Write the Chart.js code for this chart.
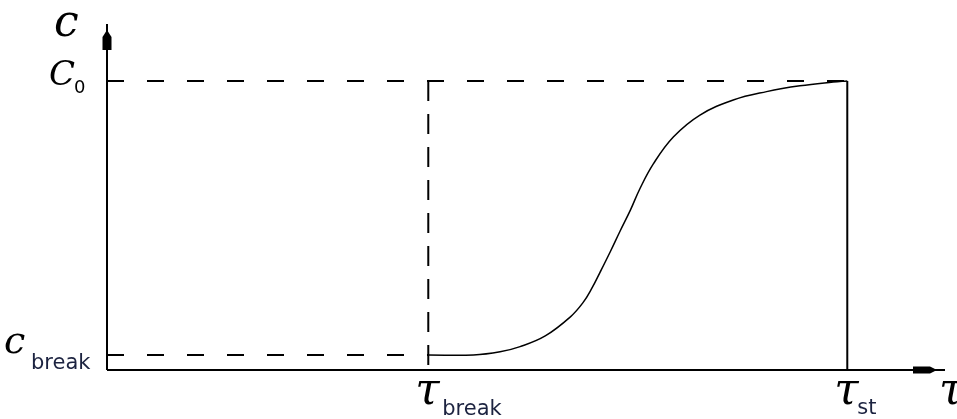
<!DOCTYPE html>
<html lang="en">
<head>
<meta charset="utf-8">
<title>Breakthrough curve</title>
<script src="https://cdn.jsdelivr.net/npm/chart.js@4"></script>
<style>
  body { margin: 0; background: #fff; }
  #wrap { width: 957px; height: 419px; position: relative; }
</style>
</head>
<body>
<div id="wrap"><canvas id="chart"></canvas></div>
<script>
// time in units of tau_st, concentration in units of C0
const tauBreak = 0.434;
const tauSt = 1.0;
const cBreak = 0.052;
const c0 = 1.0;
const xMax = 1.132;
const yMax = 1.197;

const curveTau = [0.434, 0.495, 0.531, 0.558, 0.592, 0.626, 0.643, 0.655, 0.666,
                  0.680, 0.693, 0.707, 0.720, 0.738, 0.765, 0.801, 0.846,
                  0.891, 0.936, 0.981, 1.0];
const curveC = [0.052, 0.052, 0.063, 0.081, 0.118, 0.184, 0.233, 0.283, 0.338,
                0.410, 0.480, 0.553, 0.628, 0.713, 0.806, 0.882, 0.934,
                0.963, 0.983, 0.996, 1.0];

const ink = '#000';
const subInk = '#1c2340';
const pts = (xs, ys) => xs.map((x, i) => ({ x: x, y: ys[i] }));

const line = (data, extra) => Object.assign({
  data: data, borderColor: ink, borderWidth: 2, pointRadius: 0,
  fill: false, tension: 0, clip: false
}, extra || {});

// arrowheads and axis labels
const decor = {
  id: 'decor',
  afterDatasetsDraw(chart) {
    const ctx = chart.ctx;
    const xs = chart.scales.x, ys = chart.scales.y;
    const ox = xs.getPixelForValue(0), oy = ys.getPixelForValue(0);
    const top = ys.getPixelForValue(yMax), right = xs.getPixelForValue(xMax);
    ctx.save();
    ctx.fillStyle = ink;
    // y arrow
    ctx.beginPath();
    ctx.moveTo(ox, top + 6);
    ctx.lineTo(ox + 4.5, top + 13);
    ctx.lineTo(ox + 4.5, top + 26);
    ctx.lineTo(ox - 4.5, top + 26);
    ctx.lineTo(ox - 4.5, top + 13);
    ctx.closePath();
    ctx.fill();
    // x arrow
    ctx.beginPath();
    ctx.moveTo(right - 8, oy);
    ctx.lineTo(right - 15, oy - 3.5);
    ctx.lineTo(right - 32, oy - 3.5);
    ctx.lineTo(right - 32, oy + 3.5);
    ctx.lineTo(right - 15, oy + 3.5);
    ctx.closePath();
    ctx.fill();

    const sym = 'italic 44px "DejaVu Serif"';
    const sub = '21px "DejaVu Sans"';
    ctx.textBaseline = 'alphabetic';
    ctx.textAlign = 'left';

    ctx.font = sym;
    ctx.fillText('c', 54, 36);
    ctx.font = 'italic 34px "DejaVu Serif"';
    ctx.fillText('C', 49, ys.getPixelForValue(c0) + 4);
    ctx.font = '18px "DejaVu Sans"';
    ctx.fillText('0', 74, ys.getPixelForValue(c0) + 12);

    ctx.font = 'italic 38px "DejaVu Serif"';
    ctx.fillText('c', 4, ys.getPixelForValue(cBreak) - 2);
    ctx.font = sub;
    ctx.fillStyle = subInk;
    ctx.fillText('break', 31, oy - 1);

    ctx.fillStyle = ink;
    ctx.font = sym;
    const tb = xs.getPixelForValue(tauBreak), ts = xs.getPixelForValue(tauSt);
    ctx.fillText('\u03c4', tb - 13, oy + 34);
    ctx.fillText('\u03c4', ts - 13, oy + 34);
    ctx.fillText('\u03c4', right - 6, oy + 34);
    ctx.font = sub;
    ctx.fillStyle = subInk;
    ctx.fillText('break', tb + 14, oy + 45);
    ctx.fillText('st', ts + 10, oy + 44);
    ctx.restore();
  }
};

new Chart(document.getElementById('chart'), {
  type: 'line',
  data: {
    datasets: [
      line(pts(curveTau, curveC), { borderWidth: 1.5, tension: 0.4 }),
      line([{ x: 0, y: c0 }, { x: tauSt, y: c0 }], { borderDash: [17, 23] }),
      line([{ x: 0, y: cBreak }, { x: tauBreak, y: cBreak }], { borderDash: [17, 23] }),
      line([{ x: tauBreak, y: c0 }, { x: tauBreak, y: 0 }], { borderDash: [20, 13] }),
      line([{ x: tauSt, y: c0 }, { x: tauSt, y: 0 }]),
      line([{ x: 0, y: 0 }, { x: 0, y: yMax }]),
      line([{ x: 0, y: 0 }, { x: xMax, y: 0 }])
    ]
  },
  options: {
    responsive: true,
    maintainAspectRatio: false,
    animation: false,
    layout: { padding: { left: 107, right: 12, top: 24, bottom: 49 } },
    plugins: { legend: { display: false }, tooltip: { enabled: false } },
    scales: {
      x: { type: 'linear', min: 0, max: xMax, display: false },
      y: { type: 'linear', min: 0, max: yMax, display: false }
    }
  },
  plugins: [decor]
});
</script>
</body>
</html>
